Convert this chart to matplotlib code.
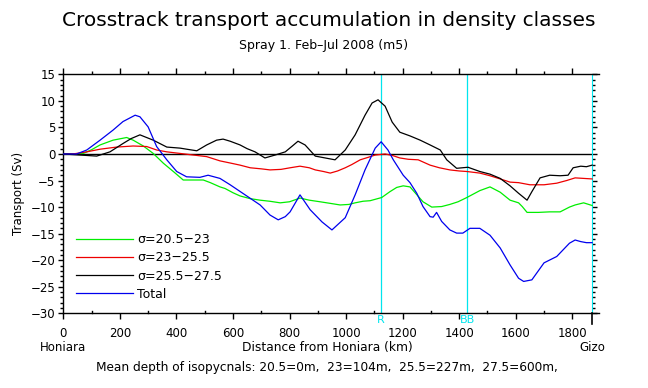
import matplotlib
matplotlib.use("Agg")
import matplotlib.pyplot as plt
from matplotlib.ticker import MultipleLocator

# ---- data (km along track, transport in Sv) ----
green_km = [0, 40, 71, 100, 130, 176, 224, 247, 283, 318, 354, 389, 424, 460, 495, 520, 554,
            572, 600, 625, 660, 696, 730, 767, 800, 837, 870, 908, 944, 979, 1010, 1032, 1060,
            1085, 1126, 1155, 1179, 1202, 1226, 1244, 1272, 1303, 1338, 1367, 1396, 1427, 1473,
            1509, 1545, 1580, 1610, 1623, 1640, 1680, 1720, 1757, 1790, 1810, 1840, 1870]
green_sv = [0, 0.05, 0.1, 0.8, 1.7, 2.6, 3.1, 2.6, 1.5, 0.1, -1.75, -3.3, -4.9, -4.9, -4.9, -5.4, -6.2,
            -6.5, -7.3, -7.9, -8.4, -8.7, -8.9, -9.2, -9.0, -8.3, -8.7, -9.0, -9.3, -9.6, -9.5, -9.2, -8.9,
            -8.8, -8.2, -7.1, -6.3, -6.0, -6.2, -7.3, -9.0, -10.0, -9.9, -9.5, -9.0, -8.2, -6.9,
            -6.2, -7.2, -8.7, -9.2, -9.9, -11.0, -11.0, -10.9, -10.9, -10.0, -9.6, -9.2, -9.7]

red_km = [0, 40, 83, 130, 189, 247, 295, 330, 366, 413, 460, 507, 554, 590, 625, 661, 700,
          731, 770, 802, 837, 870, 891, 920, 944, 970, 997, 1020, 1050, 1080, 1103, 1138, 1165,
          1190, 1220, 1255, 1297, 1330, 1367, 1400, 1427, 1473, 1509, 1545, 1580, 1610, 1650,
          1700, 1745, 1780, 1810, 1840, 1870]
red_sv = [0, 0.05, 0.4, 0.9, 1.3, 1.5, 1.4, 0.75, 0.4, 0.1, -0.2, -0.5, -1.3, -1.7, -2.1, -2.6, -2.8,
          -3.0, -2.9, -2.6, -2.3, -2.6, -3.0, -3.3, -3.6, -3.2, -2.6, -2.0, -1.1, -0.6, -0.2, 0.0, -0.3,
          -0.75, -1.0, -1.1, -2.1, -2.6, -3.0, -3.2, -3.3, -3.6, -4.1, -4.7, -5.3, -5.4, -5.8,
          -5.8, -5.5, -5.0, -4.5, -4.6, -4.7]

black_km = [0, 59, 118, 165, 212, 240, 271, 318, 366, 413, 436, 472, 507, 542, 565, 590, 625,
            650, 678, 713, 749, 785, 810, 830, 855, 891, 926, 961, 997, 1032, 1067, 1092, 1113,
            1138, 1163, 1190, 1226, 1262, 1297, 1333, 1356, 1391, 1431, 1473, 1509, 1545, 1580,
            1610, 1640, 1657, 1686, 1720, 1757, 1785, 1803, 1830, 1850, 1870]
black_sv = [0, -0.2, -0.4, 0.4, 2.0, 2.9, 3.6, 2.6, 1.3, 1.1, 0.9, 0.6, 1.7, 2.6, 2.8, 2.4, 1.7,
            1.0, 0.4, -0.75, -0.2, 0.4, 1.5, 2.4, 1.7, -0.4, -0.75, -1.1, 0.75, 3.6, 7.3, 9.6, 10.2,
            9.0, 6.0, 4.1, 3.4, 2.6, 1.7, 0.75, -1.1, -2.7, -2.5, -3.3, -3.8, -4.6, -6.0,
            -7.4, -8.7, -7.1, -4.5, -4.0, -4.1, -4.0, -2.6, -2.3, -2.4, -2.1]

blue_km = [0, 47, 83, 130, 176, 211, 254, 271, 300, 330, 366, 401, 436, 483, 512, 554, 590,
           643, 696, 731, 760, 785, 802, 837, 873, 915, 950, 997, 1032, 1067, 1103, 1124, 1148,
           1167, 1202, 1226, 1250, 1272, 1297, 1308, 1320, 1338, 1367, 1391, 1413, 1438, 1473,
           1509, 1545, 1580, 1610, 1628, 1657, 1700, 1745, 1790, 1810, 1830, 1850, 1870]
blue_sv = [0, 0, 0.75, 2.6, 4.5, 6.1, 7.3, 7.0, 5.1, 1.4, -1.1, -3.3, -4.3, -4.4, -4.0, -4.6, -5.8,
           -7.7, -9.6, -11.5, -12.4, -11.8, -10.9, -7.7, -10.5, -12.8, -14.3, -12.0, -7.7, -3.0, 1.1, 2.3, 0.75,
           -1.1, -4.0, -5.4, -7.4, -9.9, -11.8, -11.9, -11.0, -12.7, -14.3, -14.9, -14.9, -14.0, -14.0,
           -15.3, -17.7, -20.9, -23.4, -24.0, -23.7, -20.5, -19.3, -16.8, -16.2, -16.5, -16.7, -16.7]

labels = ["σ=20.5−23", "σ=23−25.5", "σ=25.5−27.5", "Total"]
colors = ["#00ee00", "#ee0000", "#000000", "#0000ee"]

marker_km = [1124, 1429]
marker_names = ["R", "BB"]
end_km = 1870

fig = plt.figure(figsize=(6.48, 3.88), dpi=100)
ax = fig.add_axes([0.0977, 0.1925, 0.8265, 0.616])

for xs, ys, lab, c in zip([green_km, red_km, black_km, blue_km],
                          [green_sv, red_sv, black_sv, blue_sv], labels, colors):
    ax.plot(xs, ys, color=c, lw=0.9, label=lab, zorder=3)

ax.hlines(0, 0, end_km, color="black", lw=1.0, zorder=2)
for mk in marker_km:
    ax.axvline(mk, color="#00e5ee", lw=0.9, zorder=1)

ax.set_xlim(0, 1894)
ax.set_ylim(-30, 15)

ax.spines["right"].set_position(("data", end_km))
ax.spines["right"].set_color("#00e5ee")
for s in ["left", "top", "bottom"]:
    ax.spines[s].set_linewidth(1.0)

ax.xaxis.set_major_locator(MultipleLocator(200))
ax.xaxis.set_minor_locator(MultipleLocator(100))
ax.yaxis.set_major_locator(MultipleLocator(5))
ax.yaxis.set_minor_locator(MultipleLocator(1))
ax.set_xticks(range(0, 1801, 200))

ax.tick_params(axis="x", which="major", direction="out", length=4.5, width=1, labelsize=8.5,
               top=True, labeltop=False, pad=5)
ax.tick_params(axis="x", which="minor", direction="out", length=2.4, width=1, top=True, bottom=False)
ax.tick_params(axis="y", which="major", direction="out", length=3.8, width=1, labelsize=8.5,
               right=True, labelright=False, pad=2)
ax.tick_params(axis="y", which="minor", direction="out", length=2.2, width=1, right=True)
ax.yaxis.set_tick_params(which="both", color="black")

# small inward minor ticks on bottom axis
for xm in range(100, 1900, 200):
    ax.plot([xm, xm], [0, 0.011], transform=ax.get_xaxis_transform(), color="black", lw=1,
            clip_on=False, zorder=4)
# Gizo end marker below axis
ax.plot([end_km, end_km], [0, -0.045], transform=ax.get_xaxis_transform(), color="black", lw=1.2,
        clip_on=False, zorder=4)

for mk, nm in zip(marker_km, marker_names):
    ax.text(mk, -0.006, nm, transform=ax.get_xaxis_transform(), color="#00e5ee", fontsize=8,
            ha="center", va="top")

ax.text(0, -0.115, "Honiara", transform=ax.get_xaxis_transform(), fontsize=8.5, ha="center", va="top")
ax.text(end_km, -0.115, "Gizo", transform=ax.get_xaxis_transform(), fontsize=8.5, ha="center", va="top")
ax.text(935, -0.115, "Distance from Honiara (km)", transform=ax.get_xaxis_transform(), fontsize=8.8,
        ha="center", va="top")
ax.set_ylabel("Transport (Sv)", fontsize=8.5, labelpad=4)

leg = ax.legend(loc="lower left", bbox_to_anchor=(0.0, 0.0), frameon=False, fontsize=9,
                handlelength=4.6, handletextpad=0.3, labelspacing=0.42, borderaxespad=0.6)

fig.text(0.508, 0.948, "Crosstrack transport accumulation in density classes", fontsize=14.5,
         ha="center", va="center")
fig.text(0.5, 0.884, "Spray 1. Feb\u2013Jul 2008 (m5)", fontsize=9, ha="center", va="center")
fig.text(0.505, 0.052, "Mean depth of isopycnals: 20.5=0m,  23=104m,  25.5=227m,  27.5=600m,",
         fontsize=8.7, ha="center", va="center")

fig.savefig("out.png", dpi=100, facecolor="white")
